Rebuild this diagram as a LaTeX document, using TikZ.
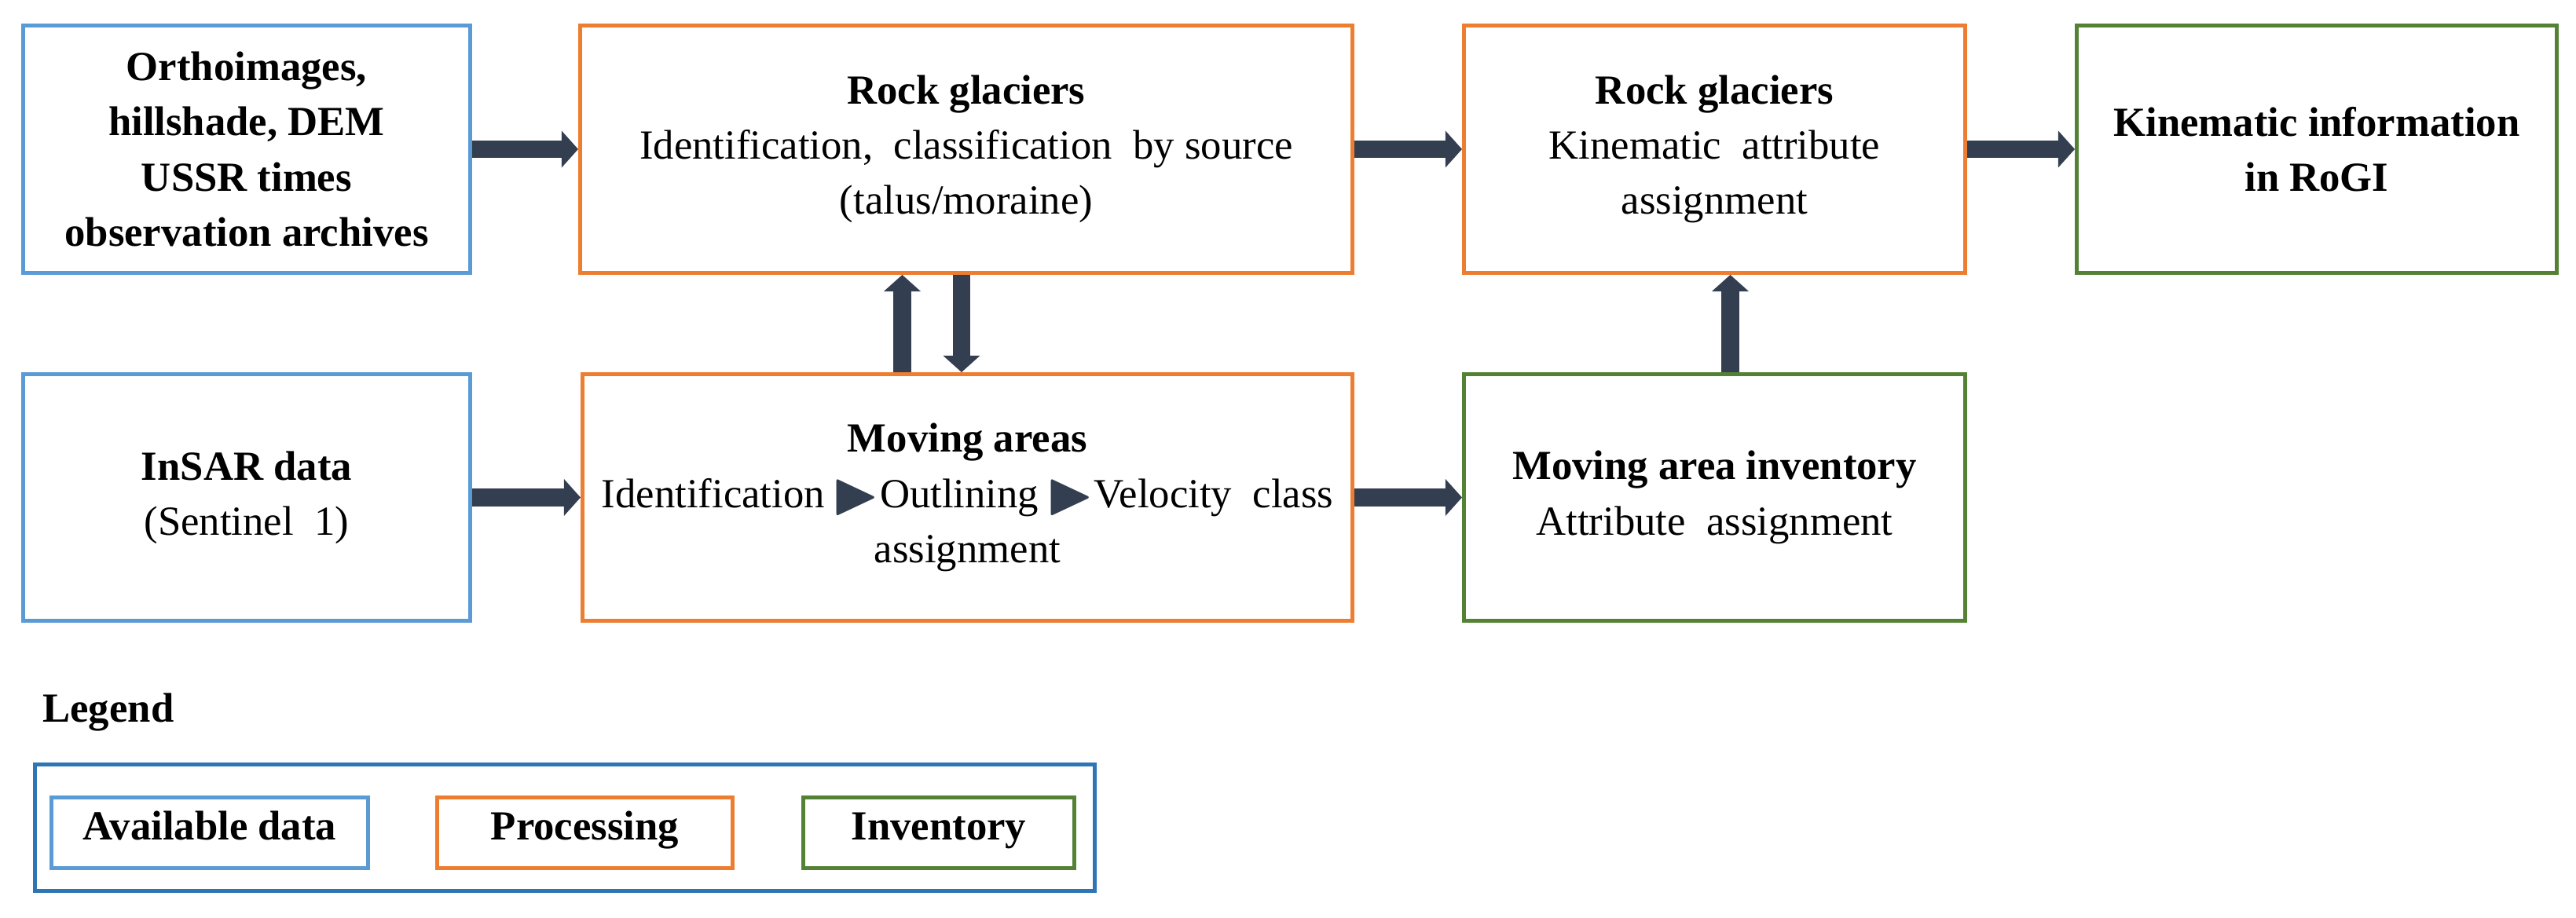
\documentclass[tikz,border=0pt]{standalone}
\usepackage{fontspec}
\usepackage{amssymb}
\setmainfont{Liberation Serif}
\usetikzlibrary{arrows.meta}
\definecolor{dataBlue}{HTML}{5B9BD5}
\definecolor{procOrange}{HTML}{ED7D31}
\definecolor{invGreen}{HTML}{548235}
\definecolor{legBlue}{HTML}{2E75B6}
\definecolor{arrowDark}{HTML}{333F50}
\tikzset{
    box/.style={draw, line width=1.4pt, anchor=north west, align=center, inner sep=2pt,
        font=\fontsize{15}{20}\selectfont},
    data/.style={box, draw=dataBlue},
    proc/.style={box, draw=procOrange},
    inv/.style={box, draw=invGreen},
    legItem/.style={text height=0.75em, text depth=0.25em},
    flow/.style={line width=6.5pt, draw=arrowDark, -{Triangle[length=6pt, width=13pt]}, shorten <=0pt},
}
\newcommand{\stepArrow}{\textcolor{arrowDark}{\raisebox{-0.15em}{\scalebox{1.5}{$\blacktriangleright$}}}}

\begin{document}
\begin{tikzpicture}
    \useasboundingbox (0,0) rectangle (32.79,-11.68);

    % top row
    \node[data, minimum width=5.69cm, minimum height=3.15cm] (ortho) at (0.27,-0.30)
        {\textbf{Orthoimages,}\\ \textbf{hillshade, DEM}\\ \textbf{USSR times}\\ \textbf{observation archives}};
    \node[proc, minimum width=9.83cm, minimum height=3.15cm] (rgIdent) at (7.36,-0.30)
        {\textbf{Rock glaciers}\\ Identification,\ \ classification\ \ by source\\ (talus/moraine)};
    \node[proc, minimum width=6.38cm, minimum height=3.15cm] (rgKin) at (18.61,-0.30)
        {\textbf{Rock glaciers}\\ Kinematic\ \ attribute\\ assignment};
    \node[inv, minimum width=6.11cm, minimum height=3.15cm] (rogi) at (26.41,-0.30)
        {\textbf{Kinematic information}\\ \textbf{in RoGI}};

    % bottom row
    \node[data, minimum width=5.69cm, minimum height=3.14cm] (insar) at (0.27,-4.74)
        {\textbf{InSAR data}\\ (Sentinel\ \ 1)};
    \node[proc, minimum width=9.80cm, minimum height=3.14cm] (moving) at (7.39,-4.74)
        {\textbf{Moving areas}\\ Identification\,\stepArrow Outlining\,\stepArrow Velocity\ \ class\\ assignment};
    \node[inv, minimum width=6.38cm, minimum height=3.14cm] (movInv) at (18.61,-4.74)
        {\textbf{Moving area inventory}\\ Attribute\ \ assignment};

    % connectors
    \draw[flow] (ortho.east) -- (rgIdent.west);
    \draw[flow] (rgIdent.east) -- (rgKin.west);
    \draw[flow] (rgKin.east) -- (rogi.west);
    \draw[flow] (insar.east) -- (moving.west);
    \draw[flow] (moving.east) -- (movInv.west);
    \draw[flow] ([xshift=-0.83cm]moving.north) -- ([xshift=-0.83cm]moving.north |- rgIdent.south);
    \draw[flow] ([xshift=-0.06cm]rgIdent.south) -- ([xshift=-0.06cm]rgIdent.south |- moving.north);
    \draw[flow] ([xshift=0.2cm]movInv.north) -- ([xshift=0.2cm]movInv.north |- rgKin.south);

    % legend
    \node[anchor=west, font=\fontsize{15}{18}\selectfont\bfseries] (legTitle) at (0.42,-9.07) {Legend};
    \node[box, draw=legBlue, minimum width=13.49cm, minimum height=1.61cm] (legFrame) at (0.42,-9.71) {};
    \node[data, legItem, minimum width=4.03cm, minimum height=0.90cm] (legData) at (0.63,-10.13) {\textbf{Available data}};
    \node[proc, legItem, minimum width=3.76cm, minimum height=0.90cm] (legProc) at (5.54,-10.13) {\textbf{Processing}};
    \node[inv, legItem, minimum width=3.45cm, minimum height=0.90cm] (legInv) at (10.20,-10.13) {\textbf{Inventory}};
\end{tikzpicture}
\end{document}
